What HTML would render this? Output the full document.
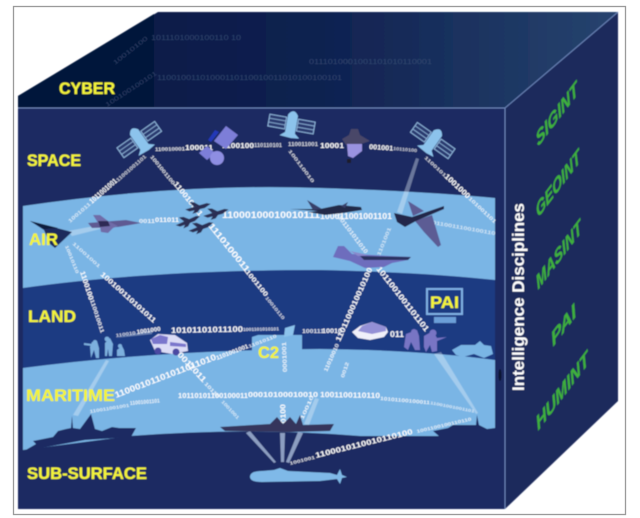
<!DOCTYPE html>
<html><head><meta charset="utf-8"><style>
html,body{margin:0;padding:0;background:#fff;width:640px;height:518px;overflow:hidden}
svg{display:block}
text{font-family:"Liberation Sans",sans-serif}
.y{fill:#f4f43a;font-weight:bold;font-size:16.5px;stroke:#f4f43a;stroke-width:.25}
.g{fill:#3fb03c;font-weight:bold;font-style:italic;font-size:18px;stroke:#3fb03c;stroke-width:.25}
</style></head><body>
<svg width="640" height="518" viewBox="0 0 640 518" xmlns="http://www.w3.org/2000/svg">
<defs>
<linearGradient id="top" x1="0" x2="1" y1="0" y2="0">
<stop offset="0" stop-color="#0a1a44"/><stop offset=".5" stop-color="#0f2150"/><stop offset="1" stop-color="#27446f"/>
</linearGradient>
<filter id="s" x="-5%" y="-5%" width="110%" height="110%"><feGaussianBlur stdDeviation="0.45"/></filter>
<g id="sat">
<rect x="-23" y="-9" width="17" height="12" fill="#2b3b70" stroke="#8fb6dc" stroke-width="1"/>
<path d="M-23,-5H-6M-23,-1H-6" stroke="#8fb6dc" stroke-width=".8"/>
<rect x="6" y="-9" width="17" height="12" fill="#2b3b70" stroke="#8fb6dc" stroke-width="1"/>
<path d="M6,-5H23M6,-1H23" stroke="#8fb6dc" stroke-width=".8"/>
<path d="M-5,-12 Q0,-20 5,-12 L5,6 L10,10 L2,11 L-10,10 L-5,6Z" fill="#8cc3ec"/>
</g>
<g id="jet">
<path d="M-20,1 L14,-4 L20,-2 L10,3 L-14,5Z" fill="#2a2d52"/>
<path d="M-6,-1 L-12,-9 L-5,-8 L3,-2Z M-4,2 L-10,9 L-2,8 L4,2Z" fill="#2a2d52"/>
</g>
</defs>
<rect width="640" height="518" fill="#fff"/>
<rect x="13.5" y="6.5" width="612" height="508" fill="#fff" stroke="#9a9a9a" stroke-width="1.3"/>
<g filter="url(#s)">
<!-- top -->
<path d="M18,96 L158,12 L618,12 L505,108 L18,108Z" fill="url(#top)"/>
<path d="M18,96 L154,14 L154,108 L18,108Z" fill="#03143a"/>
<!-- right -->
<path d="M505,108 L618,12 L618,401 L505,509Z" fill="#1b2a5c"/>
<!-- front -->
<rect x="18" y="108" width="487" height="401" fill="#1c2b62"/>
<path d="M23,206 Q180,183 320,188 Q420,191 495,198 L495,282 L23,288Z" fill="#7ab5e5"/>
<path d="M23,288 Q150,270 320,270 Q420,272 495,280 L495,360 L23,368Z" fill="#1a3a82"/>
<path d="M23,368 Q160,350 320,349 Q420,350 495,360 L495,436 L360,436 Q250,427 130,436 L23,450Z" fill="#7ab5e5"/>
<path d="M252,337 L258,335 L302,335 L302,351 L252,352Z" fill="#7ab5e5"/>
<!-- edges -->
<path d="M18,108 H505 V509" fill="none" stroke="#6c86bb" stroke-width="1"/>
<path d="M505,108 L618,12" stroke="#6c86bb" stroke-width="1"/>
<!-- cyber binary -->
<g fill="#3b5078" opacity=".75" font-size="7.5">
<text x="151" y="40" textLength="90" lengthAdjust="spacingAndGlyphs">1011101000100110 10</text>
<text x="157" y="80" textLength="185" lengthAdjust="spacingAndGlyphs">11001001101000110110010011010100100101</text>
<text x="309" y="64" textLength="123" lengthAdjust="spacingAndGlyphs">0111010001001101010110001</text>
<text transform="translate(115,65) rotate(-38)" font-size="6" textLength="42" lengthAdjust="spacingAndGlyphs">10010100</text>
<text transform="translate(107,107) rotate(-33)" font-size="6" textLength="60" lengthAdjust="spacingAndGlyphs">100100100101</text>
</g>
<!-- wedges -->
<g fill="#e8f2fb" opacity=".38">
<path d="M68,231 L100,225 L100,229 L72,236Z"/>
<path d="M115,338 L152,330 L152,334Z"/>
<path d="M434,354 L441,352 L478,413 L476,414Z"/>
<path d="M397,212 L416,158 L419,159 L402,214Z"/>
<path d="M73,415 L106,360 L109,361 L78,416Z"/>
<path d="M304,424 L315,398 L319,399 L309,425Z"/>
</g>
<g fill="#a9bbd9" opacity=".8">
<path d="M246,433 L250,431 L276,462 L274,463Z"/>
<path d="M280,433 L285,433 L284,462 L281,462Z"/>
<path d="M298,432 L303,433 L289,463 L286,462Z"/>
</g>
<!-- data links -->
<g fill="#fff" font-weight="bold">
<text x="155" y="151" font-size="5" opacity=".85" transform="rotate(-1 155 151)" textLength="30" lengthAdjust="spacingAndGlyphs">110010001</text>
<text x="185" y="150" font-size="7.5" textLength="28" lengthAdjust="spacingAndGlyphs">100011</text>
<text x="222" y="148" font-size="7.5" textLength="32" lengthAdjust="spacingAndGlyphs">1100100</text>
<text x="254" y="147" font-size="5" opacity=".8" textLength="28" lengthAdjust="spacingAndGlyphs">110110101</text>
<text x="288" y="146" font-size="5" opacity=".8" textLength="30" lengthAdjust="spacingAndGlyphs">110011001</text>
<text x="320" y="148" font-size="7.5" textLength="24" lengthAdjust="spacingAndGlyphs">10001</text>
<text x="369" y="149" font-size="7" transform="rotate(4 369 149)" textLength="24" lengthAdjust="spacingAndGlyphs">001001</text>
<text x="393" y="150" font-size="4.5" transform="rotate(5 393 150)" opacity=".75" textLength="24" lengthAdjust="spacingAndGlyphs">10110100</text>
<!-- sat1 down-left -->
<text transform="translate(70,223) rotate(-41)" font-size="5" opacity=".7" textLength="28" lengthAdjust="spacingAndGlyphs">1001011</text>
<text transform="translate(92,204) rotate(-41)" font-size="7.5" textLength="34" lengthAdjust="spacingAndGlyphs">1011001001</text>
<text transform="translate(118,182) rotate(-41)" font-size="5" opacity=".75" textLength="38" lengthAdjust="spacingAndGlyphs">11001001101</text>
<!-- sat1 down-right long -->
<text transform="translate(150,157) rotate(51)" font-size="5" opacity=".85" textLength="36" lengthAdjust="spacingAndGlyphs">1001001100</text>
<text transform="translate(173,184) rotate(51)" font-size="7.5" textLength="42" lengthAdjust="spacingAndGlyphs">110010011</text>
<text transform="translate(208,226) rotate(51)" font-size="8.5" textLength="60" lengthAdjust="spacingAndGlyphs">1110100011</text>
<text transform="translate(245,272) rotate(51)" font-size="6.5" textLength="32" lengthAdjust="spacingAndGlyphs">1001100</text>
<text transform="translate(265,298) rotate(51)" font-size="4.5" opacity=".8" textLength="28" lengthAdjust="spacingAndGlyphs">10010110</text>
<!-- sat3 down-right -->
<text transform="translate(288,151) rotate(53)" font-size="4.5" opacity=".8" textLength="40" lengthAdjust="spacingAndGlyphs">100110010</text>
<text transform="translate(335,214) rotate(53)" font-size="6" opacity=".8" textLength="50" lengthAdjust="spacingAndGlyphs">0101101011010</text>
<!-- sat5 right -->
<text transform="translate(424,158) rotate(43)" font-size="4.5" opacity=".8" textLength="28" lengthAdjust="spacingAndGlyphs">1100101</text>
<text transform="translate(444,177) rotate(43)" font-size="7.5" textLength="32" lengthAdjust="spacingAndGlyphs">1001000</text>
<text transform="translate(468,199) rotate(43)" font-size="5" opacity=".8" textLength="36" lengthAdjust="spacingAndGlyphs">101001101</text>
<text transform="translate(380,256) rotate(-68)" font-size="5" opacity=".65" textLength="30" lengthAdjust="spacingAndGlyphs">1101001</text>
<!-- air horizontal -->
<text x="139" y="223" font-size="5" opacity=".85" textLength="16" lengthAdjust="spacingAndGlyphs">0011</text>
<text x="155" y="222" font-size="6.5" textLength="24" lengthAdjust="spacingAndGlyphs">011011</text>
<text x="222" y="218" font-size="9" textLength="98" lengthAdjust="spacingAndGlyphs">11000100010010111</text>
<text x="320" y="219" font-size="8" textLength="72" lengthAdjust="spacingAndGlyphs">100011001001101</text>
<text transform="translate(432,224) rotate(10)" font-size="5" opacity=".65" textLength="64" lengthAdjust="spacingAndGlyphs">0110011100100110</text>
<!-- left plane branches -->
<text transform="translate(65,246) rotate(68)" font-size="4.5" opacity=".75" textLength="30" lengthAdjust="spacingAndGlyphs">10010110</text>
<text transform="translate(80,272) rotate(72)" font-size="7" textLength="30" lengthAdjust="spacingAndGlyphs">1100100</text>
<text transform="translate(90,300) rotate(72)" font-size="5.5" opacity=".9" textLength="35" lengthAdjust="spacingAndGlyphs">110010011</text>
<text transform="translate(72,244) rotate(42)" font-size="4.5" opacity=".7" textLength="36" lengthAdjust="spacingAndGlyphs">11001001</text>
<text transform="translate(100,275) rotate(42)" font-size="7" textLength="72" lengthAdjust="spacingAndGlyphs">100100110101011</text>
<!-- land horizontal -->
<text x="116" y="337" font-size="4.5" transform="rotate(-8 116 337)" opacity=".8" textLength="20" lengthAdjust="spacingAndGlyphs">110010</text>
<text x="137" y="334" font-size="6" transform="rotate(-8 137 334)" textLength="24" lengthAdjust="spacingAndGlyphs">1001000</text>
<text x="171" y="333" font-size="8" transform="rotate(-1 171 333)" textLength="72" lengthAdjust="spacingAndGlyphs">10101101011100</text>
<text x="243" y="331" font-size="4.5" transform="rotate(-1 243 331)" opacity=".85" textLength="36" lengthAdjust="spacingAndGlyphs">1001101010101</text>
<text x="302" y="333" font-size="5" opacity=".85" textLength="22" lengthAdjust="spacingAndGlyphs">100111</text>
<text x="322" y="333" font-size="6.5" textLength="20" lengthAdjust="spacingAndGlyphs">10010</text>
<text x="390" y="337" font-size="8" textLength="14" lengthAdjust="spacingAndGlyphs">011</text>
<!-- humvee down -->
<text transform="translate(177,355) rotate(47)" font-size="8" textLength="38" lengthAdjust="spacingAndGlyphs">0011011</text>
<text transform="translate(204,384) rotate(47)" font-size="5" opacity=".8" textLength="20" lengthAdjust="spacingAndGlyphs">10110</text>
<text transform="translate(221,402) rotate(47)" font-size="4.5" opacity=".7" textLength="24" lengthAdjust="spacingAndGlyphs">1001001</text>
<!-- maritime diagonal -->
<text transform="translate(116,398) rotate(-21)" font-size="8.5" textLength="108" lengthAdjust="spacingAndGlyphs">11000101101011011010</text>
<text transform="translate(217,360) rotate(-21)" font-size="6" textLength="34" lengthAdjust="spacingAndGlyphs">1101001001</text>
<text transform="translate(249,348) rotate(-21)" font-size="4.5" opacity=".8" textLength="30" lengthAdjust="spacingAndGlyphs">11010110</text>
<!-- long maritime -->
<text transform="translate(90,413) rotate(-9)" font-size="4.5" opacity=".75" textLength="40" lengthAdjust="spacingAndGlyphs">110011001001</text>
<text transform="translate(130,405) rotate(-5)" font-size="5.5" opacity=".85" textLength="30" lengthAdjust="spacingAndGlyphs">11001001101</text>
<text x="178" y="398" font-size="7" textLength="70" lengthAdjust="spacingAndGlyphs">10110101100100011</text>
<text x="248" y="397" font-size="7.5" textLength="70" lengthAdjust="spacingAndGlyphs">00010100010010</text>
<text x="320" y="397" font-size="7.5" transform="rotate(1 320 397)" textLength="60" lengthAdjust="spacingAndGlyphs">1001100110110</text>
<text x="380" y="400" font-size="5" transform="rotate(5 380 400)" opacity=".85" textLength="50" lengthAdjust="spacingAndGlyphs">10101100100011</text>
<text x="430" y="404" font-size="4" transform="rotate(11 430 404)" opacity=".7" textLength="45" lengthAdjust="spacingAndGlyphs">11001001001101</text>
<!-- C2 vertical -->
<text transform="translate(287,372) rotate(-92)" font-size="6" opacity=".85" textLength="30" lengthAdjust="spacingAndGlyphs">0001001</text>
<text transform="translate(286,428) rotate(-92)" font-size="7.5" textLength="24" lengthAdjust="spacingAndGlyphs">00100</text>
<!-- plane branches -->
<text transform="translate(327,372) rotate(-66)" font-size="5.5" opacity=".85" textLength="30" lengthAdjust="spacingAndGlyphs">11010010</text>
<text transform="translate(340,342) rotate(-66)" font-size="7.5" textLength="80" lengthAdjust="spacingAndGlyphs">1101100010010100</text>
<text transform="translate(376,269) rotate(52)" font-size="8" textLength="80" lengthAdjust="spacingAndGlyphs">1011001001101101</text>
<text transform="translate(344,378) rotate(-72)" font-size="5" opacity=".8" textLength="16" lengthAdjust="spacingAndGlyphs">0012</text>
<text transform="translate(303,420) rotate(-65)" font-size="5" opacity=".85" textLength="26" lengthAdjust="spacingAndGlyphs">10010</text>
<!-- sub link -->
<text transform="translate(290,465) rotate(-14)" font-size="4.5" opacity=".85" textLength="26" lengthAdjust="spacingAndGlyphs">1001001</text>
<text transform="translate(316,458) rotate(-14)" font-size="7.5" textLength="100" lengthAdjust="spacingAndGlyphs">1100010110010110100</text>
<text transform="translate(417,433) rotate(-13)" font-size="4.5" opacity=".8" textLength="56" lengthAdjust="spacingAndGlyphs">1001100100110110</text>
</g>
<!-- satellites -->
<use href="#sat" transform="translate(141,142) rotate(-35)"/>
<use href="#sat" transform="translate(291,127) rotate(10)"/>
<use href="#sat" transform="translate(431,143) rotate(35)"/>
<!-- blue sat -->
<g>
<path d="M226,126 L238,135 L226,149 L214,141Z" fill="#7d7ed8"/>
<path d="M207,146 L215,153 L207,160 L199,153Z" fill="#7d7ed8"/>
<path d="M215,130 L219,132 L211,142 L208,140Z" fill="#2438b8"/>
<circle cx="217" cy="158" r="7" fill="#8e8ee2"/>
</g>
<!-- purple sat -->
<g transform="translate(354,146)">
<path d="M-12,-7 L-5,-11 L-3,-17 L4,-17 L6,-11 L16,-5 L7,-2 L-8,-1Z" fill="#4a4668"/>
<path d="M-7,-2 L8,-2 L8,5 L-1,12 L-6,10Z" fill="#9a93e0"/>
<rect x="-7" y="13" width="4" height="4" fill="#1a1a2a"/>
</g>
<!-- Left delta aircraft -->
<path d="M30,221 L72,232 L55,248 L50,244 L44,230Z" fill="#1d2c5c"/>
<path d="M30,221 L58,228 L44,229Z" fill="#111c3c"/>
<!-- purple jet -->
<g transform="translate(110,224)">
<path d="M-22,-1 L16,-4 L31,-1 L8,3 L-18,4Z" fill="#5f5a92"/>
<path d="M-17,-9 L-10,-9 L-2,-3 L8,2 L3,4 L-2,9 L-9,8 L-10,2Z" fill="#6f6ca8"/>
<path d="M-12,-3 L-2,-3 L0,2 L-10,3Z" fill="#2d2c54"/>
</g>
<!-- formation -->
<use href="#jet" transform="translate(198,207) rotate(-8) scale(.65)"/>
<use href="#jet" transform="translate(216,213) rotate(-10) scale(.65)"/>
<use href="#jet" transform="translate(188,221) rotate(-16) scale(.65)"/>
<use href="#jet" transform="translate(201,227) rotate(-14) scale(.65)"/>
<!-- predator -->
<path d="M290,209 L320,209 L339,205 L361,207 L362,210 L343,213 L325,215 L308,212 L318,211Z" fill="#24294a"/>
<path d="M307,200 L322,209 L313,210Z M341,206 L348,202 L345,208Z" fill="#39406a"/>
<!-- large plane -->
<path d="M415,221 L432,215 L441,245 L438,247 L424,232Z" fill="#5b5c94"/>
<path d="M408,201 L424,211 L413,216Z" fill="#5b5c94"/>
<path d="M394,213 L412,217 L444,206 L444,209 L416,221 L405,227 L397,222Z" fill="#20264a"/>
<!-- bomber -->
<path d="M333,257 L338,246 L344,246 L352,254 L390,256 L411,257 L408,260 L392,263 L384,267 L365,268 L350,261Z" fill="#6e6dbd"/>
<path d="M360,256 L411,257 L408,260 L364,260Z" fill="#2a3260"/>
<path d="M350,251 L368,255 L358,256Z" fill="#8a89cc"/>
<!-- troops -->
<g fill="#7db0de">
<path d="M92,342 L97,341 L99,348 L99,358 L96,358 L94,350 L91,358 L90,347Z"/><circle cx="95" cy="342" r="2"/>
<path d="M84,343 L92,344 L92,346 L84,345Z"/>
<path d="M105,343 L110,338 L113,344 L112,356 L109,356 L108,349 L107,356 L105,356Z"/><circle cx="107" cy="339" r="2.4"/>
<path d="M117,350 L122,346 L124,350 L125,356 L117,356Z"/><circle cx="120" cy="346" r="2"/>
</g>
<!-- humvee -->
<g>
<path d="M150,340 L158,334 L175,335 L187,343 L188,351 L172,354 L155,351Z" fill="#dcdcf6"/>
<path d="M151,339 L160,335 L168,337 L167,344 L153,344Z M170,342 L186,344 L186,347 L170,346Z" fill="#7a76cc"/>
<circle cx="158" cy="351" r="3.5" fill="#4c49a2"/><circle cx="176" cy="352" r="3.5" fill="#4c49a2"/>
</g>
<!-- dish -->
<path d="M285,328 L295,325 L293,335 L284,337Z" fill="#8cc3ec"/>
<!-- tank -->
<path d="M352,332 L360,326 L372,322 L386,327 L388,332 L384,337 L370,340 L358,338Z" fill="#f0f0fa"/>
<path d="M358,331 L362,326 L372,322 L386,327 L386,331 L372,334Z" fill="#9490d6"/>
<!-- purple troops -->
<g fill="#7875c4">
<path d="M406,334 L417,330 L419,336 L420,350 L415,350 L411,342 L408,350 L404,347Z"/><circle cx="414" cy="332" r="3"/>
<path d="M424,336 L433,331 L437,338 L447,337 L437,341 L437,351 L432,352 L430,345 L426,352 L424,347Z"/><circle cx="433" cy="333" r="3.5"/>
</g>
<!-- armor -->
<path d="M452,350 L461,345 L475,345 L480,341 L484,345 L491,346 L493,354 L484,358 L474,354 L463,357 L456,355Z" fill="#7ab5e5"/>
<!-- ships -->
<path d="M33,441 L53,437 L58,431 L66,429 L71,428 L72,416 L73,428 L80,429 L91,414 L95,429 L102,431 L112,427 L119,428 L136,428 L131,437 L85,440 L24,451 L36,444Z" fill="#1c2b62"/>
<path d="M433,431 L448,428 L453,425 L476,425 L477,415 L479,425 L487,429 L495,428 L495,437 L440,437Z" fill="#1c2b62"/>
<!-- destroyer -->
<path d="M220,427 L270,424 L277,417 L283,424 L290,417 L296,424 L300,415 L303,425 L334,424 L330,431 L290,432 L225,431Z" fill="#35355c"/>
<!-- sub -->
<path d="M250,477 Q250,471 262,471 L274,470 L280,468 L288,471 L330,473 L337,475 L340,469 L342,475 L347,477 L342,478 L340,484 L337,479 L320,481 L262,482 Q250,482 250,477Z" fill="#7fb9e8"/>
<!-- labels -->
<text class="y" x="59" y="94" textLength="56" lengthAdjust="spacingAndGlyphs">CYBER</text>
<text class="y" x="27" y="166" textLength="54" lengthAdjust="spacingAndGlyphs">SPACE</text>
<text class="y" x="29" y="245" textLength="29" lengthAdjust="spacingAndGlyphs">AIR</text>
<text class="y" x="28" y="322" textLength="48" lengthAdjust="spacingAndGlyphs">LAND</text>
<text class="y" x="26" y="401" textLength="89" lengthAdjust="spacingAndGlyphs">MARITIME</text>
<text class="y" x="27" y="479" textLength="120" lengthAdjust="spacingAndGlyphs">SUB-SURFACE</text>
<text class="y" x="258" y="358" textLength="21" lengthAdjust="spacingAndGlyphs">C2</text>
<!-- PAI -->
<rect x="427" y="289" width="35" height="25" fill="#1a3a82" stroke="#7fb0e4" stroke-width="2"/>
<text class="y" x="430" y="308" textLength="29" lengthAdjust="spacingAndGlyphs">PAI</text>
<rect x="434" y="317" width="22" height="6" fill="#6c9fd8"/>
<!-- right -->
<text transform="translate(524,391) rotate(-90)" fill="#fff" font-weight="bold" font-size="16.5" textLength="188" lengthAdjust="spacingAndGlyphs">Intelligence Disciplines</text>
<text class="g" transform="matrix(.6,-.8,.25,.97,538,147)" textLength="68" lengthAdjust="spacingAndGlyphs">SIGINT</text>
<text class="g" transform="matrix(.6,-.8,.25,.97,538,218)" textLength="72" lengthAdjust="spacingAndGlyphs">GEOINT</text>
<text class="g" transform="matrix(.6,-.8,.25,.97,538,290)" textLength="74" lengthAdjust="spacingAndGlyphs">MASINT</text>
<text class="g" transform="matrix(.6,-.8,.25,.97,553,347)" textLength="40" lengthAdjust="spacingAndGlyphs">PAI</text>
<text class="g" transform="matrix(.6,-.8,.25,.97,538,431)" textLength="86" lengthAdjust="spacingAndGlyphs">HUMINT</text>
<ellipse cx="500" cy="375" rx="1.5" ry="6" fill="#0a1230"/>
</g>
</svg>
</body></html>
